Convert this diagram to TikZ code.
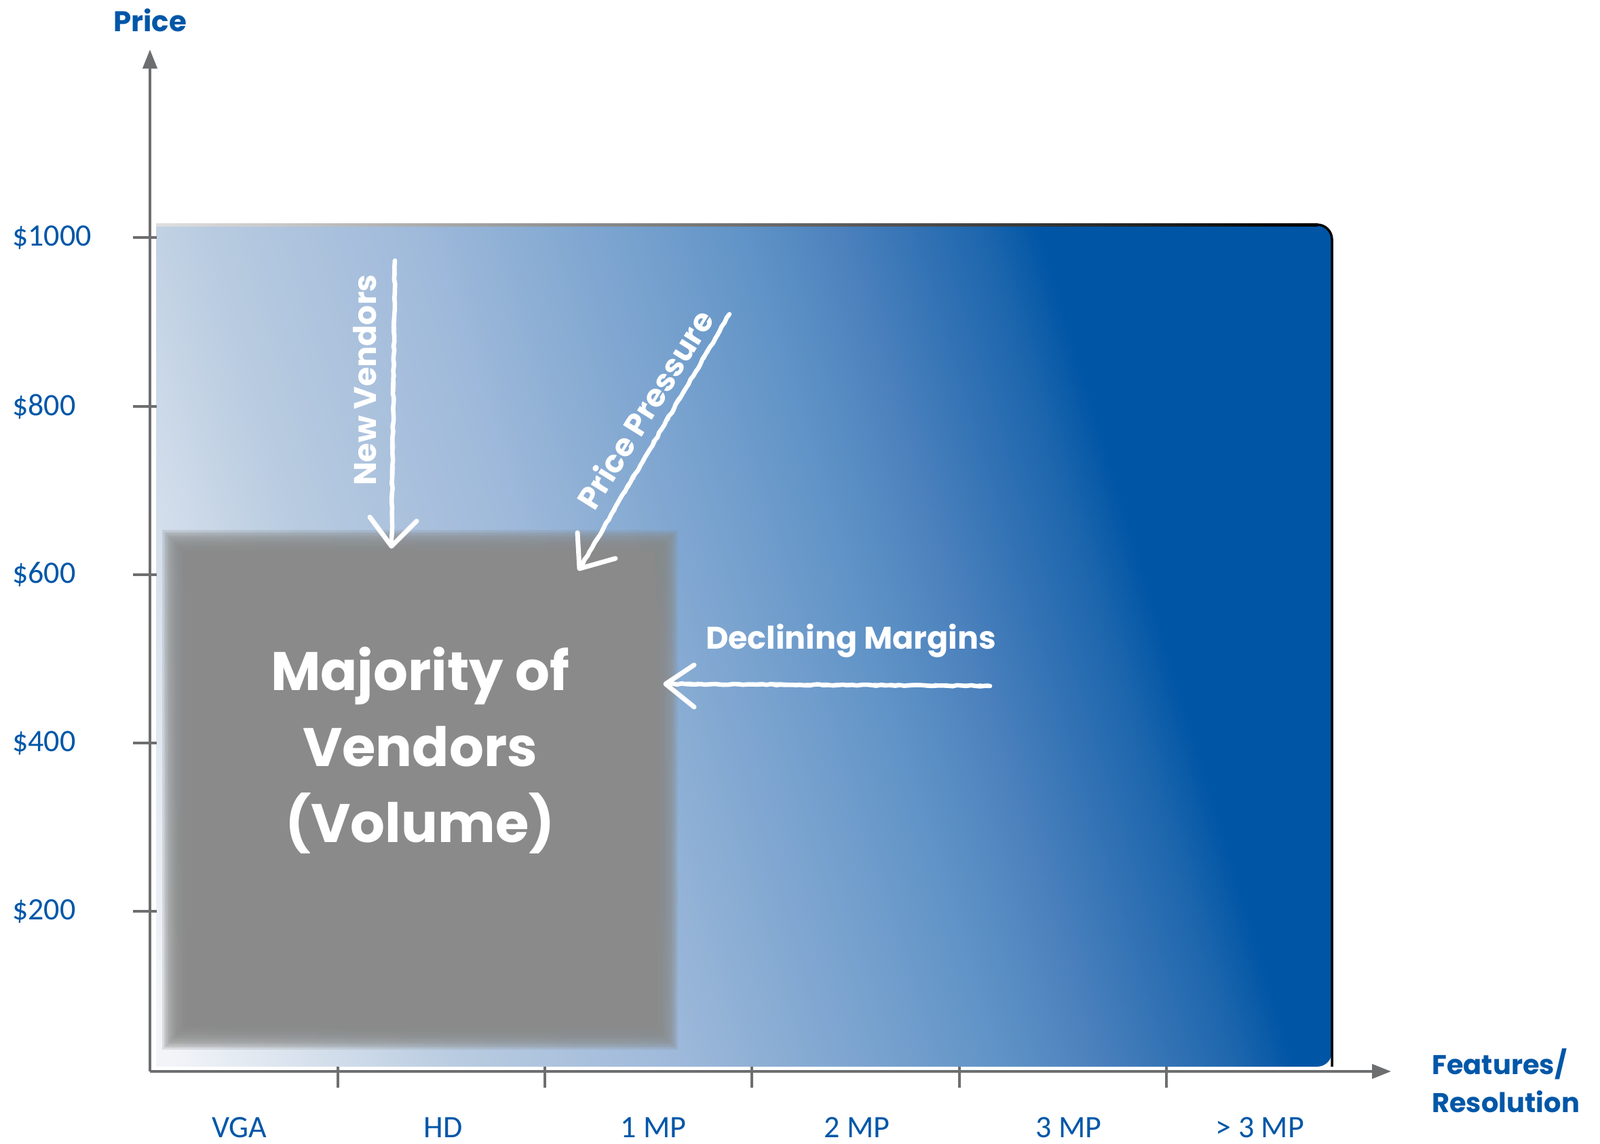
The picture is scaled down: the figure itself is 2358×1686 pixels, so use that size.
\documentclass[tikz,border=0pt]{standalone}
\usepackage{fontspec}
\setmainfont{Carlito}
\newfontfamily\rnd{Poppins}
\usetikzlibrary{arrows.meta,decorations.pathmorphing}
\definecolor{axblue}{HTML}{0057A8}
\definecolor{axgray}{HTML}{6D6E70}
\definecolor{boxgray}{HTML}{898A89}
\definecolor{gA}{HTML}{F2F4F8}
\definecolor{gB}{HTML}{B8CBE0}
\definecolor{gC}{HTML}{A0BADB}
\definecolor{gD}{HTML}{8FB0D5}
\definecolor{gE}{HTML}{7AA3CF}
\definecolor{gF}{HTML}{5E92C6}
\definecolor{gG}{HTML}{4A80BC}
\definecolor{gH}{HTML}{1D66AD}
\definecolor{gI}{HTML}{0055A5}
\pgfdeclarehorizontalshading{bgshade}{100bp}{color(0bp)=(white); color(19.5bp)=(gA); color(32bp)=(gB); color(41bp)=(gC); color(45bp)=(gD); color(50bp)=(gE); color(56bp)=(gF); color(60bp)=(gG); color(66bp)=(gH); color(68.5bp)=(gI); color(100bp)=(gI)}
\begin{document}
\begin{tikzpicture}[x=1pt,y=-1pt,
  axis/.style={draw=axgray, line width=4pt},
  axisarrow/.style={axis, -{Triangle[length=28pt,width=21pt]}},
  tick/.style={draw=axgray, line width=4pt},
  ylab/.style={anchor=west, text=axblue, font=\fontsize{46}{50}\selectfont, inner sep=0pt},
  xlab/.style={anchor=center, text=axblue, font=\fontsize{46}{50}\selectfont, inner sep=0pt},
  title/.style={text=axblue, font=\rnd\bfseries\fontsize{42}{56}\selectfont, inner sep=0pt},
  chalk/.style={draw=white, line width=6.5pt, line cap=round, decorate, decoration={random steps, segment length=7pt, amplitude=0.9pt}},
  chalkthin/.style={draw=white, opacity=0.6, line width=2pt, line cap=round, decorate, decoration={random steps, segment length=5pt, amplitude=1.2pt}},
  chalkhead/.style={draw=white, line width=7pt, line cap=round, line join=round},
  wlab/.style={text=white, font=\rnd\bfseries\fontsize{46}{52}\selectfont, inner sep=0pt},
  boxtext/.style={text=white, align=center, font=\rnd\bfseries\fontsize{80}{112}\selectfont, inner sep=0pt}
]
\useasboundingbox (0,0) rectangle (2358,1686);
\fill[white] (0,0) rectangle (2358,1686);

% gradient background
\shade[shading=bgshade, shading angle=17] (230,331) [rounded corners=22pt]-- (1963,331) -- (1963,1572) [sharp corners]-- (230,1572) -- cycle;
\shade[left color=gray!25, right color=black] (230,329) rectangle (1942,333);
\draw[black, line width=3.5pt] (1930,331) [rounded corners=22pt]-- (1963,331) -- (1963,1572);

% blurred gray box
\foreach \i in {0,...,13} {
  \fill[boxgray, fill opacity=0.22] ({256-17+\i*2.6},{798-17+\i*2.6}) rectangle ({982+17-\i*2.6},{1530+17-\i*2.6});
}
\fill[boxgray] (273,815) rectangle (965,1513);
\node[boxtext] (maj) at (619,1106) {Majority of\\Vendors\\(Volume)};

% axes
\coordinate (O) at (221,1579);
\coordinate (ytop) at (221,73);
\coordinate (xend) at (2050,1579);
\draw[axisarrow] (O) -- (ytop);
\draw[axisarrow] (O) -- (xend);
\node[title] (price) at (221,30) {Price};
\node[title, align=left, anchor=north west, font=\rnd\bfseries\fontsize{40}{56}\selectfont] (feat) at (2110,1545) {Features/\\Resolution};

% y ticks
\foreach \y/\t in {350/1000,599/800,847/600,1095/400,1343/200} {
  \draw[tick] (196,\y) -- (231,\y);
  \node[ylab] (y\t) at (18,\y) {\$\t};
}
% x ticks
\foreach \x in {498,803,1108,1414,1719} {
  \draw[tick] (\x,1572) -- (\x,1603);
}
\node[xlab] (vga) at (353,1662) {VGA};
\node[xlab] (hd) at (653,1662) {HD};
\node[xlab] (mp1) at (963,1662) {1 MP};
\node[xlab] (mp2) at (1263,1662) {2 MP};
\node[xlab] (mp3) at (1575,1662) {3 MP};
\node[xlab] (mp4) at (1857,1662) {> 3 MP};

% chalk arrows
\coordinate (nvS) at (582,384);
\coordinate (nvE) at (577,805);
\coordinate (nvA) at (545,762);
\coordinate (nvB) at (614,768);
\draw[chalk] (nvS) -- (nvE);
\draw[chalkthin] ([xshift=2pt]nvS) -- ([xshift=2pt]nvE);
\draw[chalkhead] (nvA) -- (nvE) -- (nvB);
\node[wlab, rotate=90] (nv) at (538,560) {New Vendors};

\coordinate (ppS) at (1075,463);
\coordinate (ppE) at (854,838);
\coordinate (ppA) at (851,785);
\coordinate (ppB) at (907,823);
\draw[chalk] (ppS) -- (ppE);
\draw[chalkthin] ([xshift=2pt]ppS) -- ([xshift=2pt]ppE);
\draw[chalkhead] (ppA) -- (ppE) -- (ppB);
\node[wlab, rotate=58] (pp) at (950,603) {Price Pressure};

\coordinate (dmS) at (1459,1011);
\coordinate (dmE) at (981,1008);
\coordinate (dmA) at (1023,980);
\coordinate (dmB) at (1023,1042);
\draw[chalk] (dmS) -- (dmE);
\draw[chalkthin] ([yshift=2pt]dmS) -- ([yshift=2pt]dmE);
\draw[chalkhead] (dmA) -- (dmE) -- (dmB);
\node[wlab] (dm) at (1254,944) {Declining Margins};
\end{tikzpicture}
\end{document}
